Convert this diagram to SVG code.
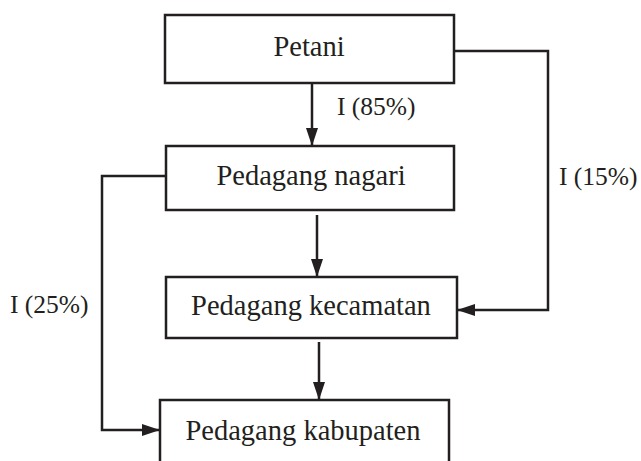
<svg xmlns="http://www.w3.org/2000/svg" width="641" height="461" viewBox="0 0 641 461">
<style>
.box{fill:#fff;stroke:#231f20;stroke-width:2.5}
.node{font-family:"Liberation Serif","Times New Roman",serif;font-size:28.5px;fill:#231f20;text-anchor:middle}
.lbl{font-family:"Liberation Serif","Times New Roman",serif;font-size:25.5px;fill:#231f20}
.edge{fill:none;stroke:#231f20;stroke-width:2.5}
</style>
<defs>
<marker id="ah" markerUnits="userSpaceOnUse" markerWidth="18" markerHeight="12" refX="18" refY="6" orient="auto">
<path d="M0,0 L18,6 L0,12 z" fill="#231f20"/>
</marker>
</defs>
<rect width="641" height="461" fill="#fff"/>
<g id="connectors">
<path class="edge" d="M312,83 V146" marker-end="url(#ah)"/>
<path class="edge" d="M317,215 V277" marker-end="url(#ah)"/>
<path class="edge" d="M319,342 V400" marker-end="url(#ah)"/>
<path class="edge" d="M454,51 H548 V310 H457" marker-end="url(#ah)"/>
<path class="edge" d="M166,176 H102 V430 H160" marker-end="url(#ah)"/>
<text class="lbl" x="337" y="115">I (85%)</text>
<text class="lbl" x="559" y="185">I (15%)</text>
<text class="lbl" x="10" y="313">I (25%)</text>
</g>
<g id="petani">
<rect class="box" x="165" y="15" width="289" height="68"/>
<text class="node" x="309" y="56">Petani</text>
</g>
<g id="pedagang-nagari">
<rect class="box" x="166" y="146" width="288" height="64"/>
<text class="node" x="311" y="185">Pedagang nagari</text>
</g>
<g id="pedagang-kecamatan">
<rect class="box" x="166" y="277" width="291" height="61"/>
<text class="node" x="311" y="315">Pedagang kecamatan</text>
</g>
<g id="pedagang-kabupaten">
<rect class="box" x="160" y="400" width="289" height="80"/>
<text class="node" x="303" y="440">Pedagang kabupaten</text>
</g>
</svg>
